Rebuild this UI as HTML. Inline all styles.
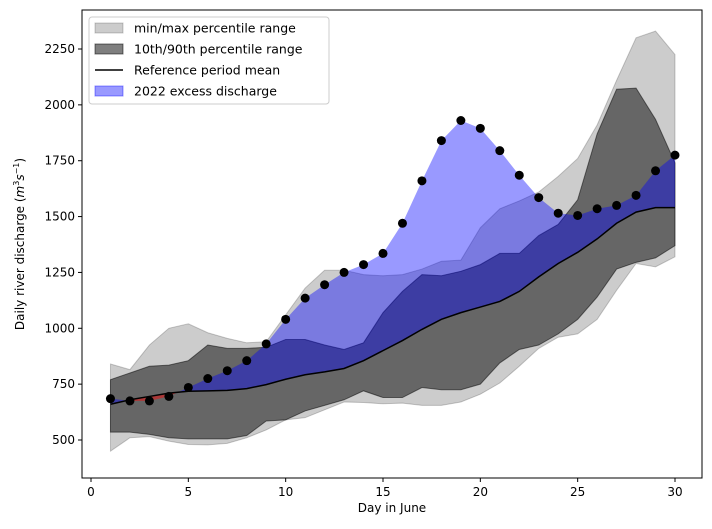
<!DOCTYPE html>
<html><head><meta charset="utf-8"><style>
body{margin:0;background:#fff;font-family:"DejaVu Sans","Liberation Sans",sans-serif;}
svg text{font-family:"DejaVu Sans","Liberation Sans",sans-serif;}
</style></head><body>
<svg id="chart" width="712" height="525"></svg>
<script>
const days=[1,2,3,4,5,6,7,8,9,10,11,12,13,14,15,16,17,18,19,20,21,22,23,24,25,26,27,28,29,30];
const meanVals=[660,680,695,710,718,720,722,730,748,772,792,805,820,855,900,945,995,1040,1070,1095,1120,1165,1230,1290,1340,1400,1470,1520,1540,1540];
const obsVals=[685,675,675,695,735,775,810,855,930,1040,1135,1195,1250,1285,1335,1470,1660,1840,1930,1895,1795,1685,1585,1515,1505,1535,1550,1595,1705,1775];
const minVals=[450,510,515,495,480,478,485,510,545,590,600,635,670,668,662,665,655,655,670,705,755,830,910,960,975,1040,1170,1290,1275,1320];
const maxVals=[840,815,925,1000,1020,980,955,935,940,1060,1180,1260,1260,1240,1235,1240,1265,1300,1305,1450,1535,1570,1610,1680,1760,1910,2110,2300,2330,2225];
const p10Vals=[535,535,525,510,505,505,505,520,585,590,630,655,680,720,690,690,735,725,725,750,845,905,925,975,1040,1140,1265,1295,1315,1370];
const p90Vals=[770,800,830,835,855,925,910,910,915,950,950,925,905,935,1070,1165,1240,1235,1255,1285,1335,1335,1415,1465,1575,1870,2070,2075,1935,1740];
const xTicks=[0,5,10,15,20,25,30];
const yTicks=[500,750,1000,1250,1500,1750,2000,2250];

const L=82,R=702,T=10,B=478;
const X=d=>91+d*(675-91)/30;
const Y=v=>440-(v-500)*(440-49)/1750;
const svg=document.getElementById('chart');
const NS='http://www.w3.org/2000/svg';
function mk(t,a,p){const e=document.createElementNS(NS,t);for(const k in a)e.setAttribute(k,a[k]);(p||svg).appendChild(e);return e;}
function band(lo,hi){let p=days.map((d,i)=>X(d)+','+Y(hi[i]));for(let i=days.length-1;i>=0;i--)p.push(X(days[i])+','+Y(lo[i]));return p.join(' ');}

let e=mk('polygon',{points:band(minVals,maxVals),fill:'#000','fill-opacity':0.2,stroke:'#000','stroke-opacity':0.2});

e=mk('polygon',{points:band(p10Vals,p90Vals),fill:'#000','fill-opacity':0.5,stroke:'#000','stroke-opacity':0.5});


const defs=mk('defs',{});
const meanPts=days.map((d,i)=>X(d)+','+Y(meanVals[i]));
const cpA=mk('clipPath',{id:'above'},defs);
mk('polygon',{points:[X(days[0])+','+T].concat(meanPts,[X(days[days.length-1])+','+T]).join(' ')},cpA);
const cpB=mk('clipPath',{id:'below'},defs);
mk('polygon',{points:[X(days[0])+','+B].concat(meanPts,[X(days[days.length-1])+','+B]).join(' ')},cpB);
const diffPts=band(meanVals,obsVals);
e=mk('polygon',{points:diffPts,fill:'#0000ff','fill-opacity':0.4,'clip-path':'url(#above)'});

e=mk('polygon',{points:diffPts,fill:'#ff0000','fill-opacity':0.45,'clip-path':'url(#below)'});


e=mk('polyline',{points:meanPts.join(' '),fill:'none',stroke:'#000','stroke-width':1.5});

days.forEach((d,i)=>{const c=mk('circle',{cx:X(d),cy:Y(obsVals[i]),r:4.5,fill:'#000'});
  });

e=mk('rect',{x:L,y:T,width:R-L,height:B-T,fill:'none',stroke:'#000','stroke-width':1});

xTicks.forEach(t=>{mk('line',{x1:X(t),x2:X(t),y1:B,y2:B+4,stroke:'#000'});
  const tx=mk('text',{x:X(t),y:B+18,'text-anchor':'middle','font-size':12});tx.textContent=t;
  });
yTicks.forEach(t=>{mk('line',{x1:L-4,x2:L,y1:Y(t),y2:Y(t),stroke:'#000'});
  const tx=mk('text',{x:L-7,y:Y(t)+4,'text-anchor':'end','font-size':12});tx.textContent=t;
  });
e=mk('text',{x:392,y:512,'text-anchor':'middle','font-size':12});e.textContent='Day in June';

e=mk('text',{x:0,y:0,'text-anchor':'middle','font-size':12,transform:'translate(24,244) rotate(-90)'});
e.innerHTML='Daily river discharge (<tspan font-style="italic">m</tspan><tspan font-size="8" dy="-5">3</tspan><tspan dy="5" font-style="italic">s</tspan><tspan font-size="8" dy="-5">−1</tspan><tspan dy="5">)</tspan>';


const lg=mk('g',{});
mk('rect',{x:89,y:17,width:240,height:87,rx:3,fill:'#fff','fill-opacity':0.8,stroke:'#ccc'},lg);
const items=[['min/max percentile range','#000',0.2],['10th/90th percentile range','#000',0.5],['Reference period mean',null,0],['2022 excess discharge','#0000ff',0.4]];
items.forEach((it,i)=>{const y=28+i*21;
  if(it[1])mk('rect',{x:95,y:y-5,width:28,height:10,fill:it[1],'fill-opacity':it[2],stroke:it[1],'stroke-opacity':it[2]},lg);
  else mk('line',{x1:95,x2:123,y1:y,y2:y,stroke:'#000','stroke-width':1.5},lg);
  const tx=mk('text',{x:134,y:y+4.5,'font-size':12.5},lg);tx.textContent=it[0];
  });
</script>
</body></html>
